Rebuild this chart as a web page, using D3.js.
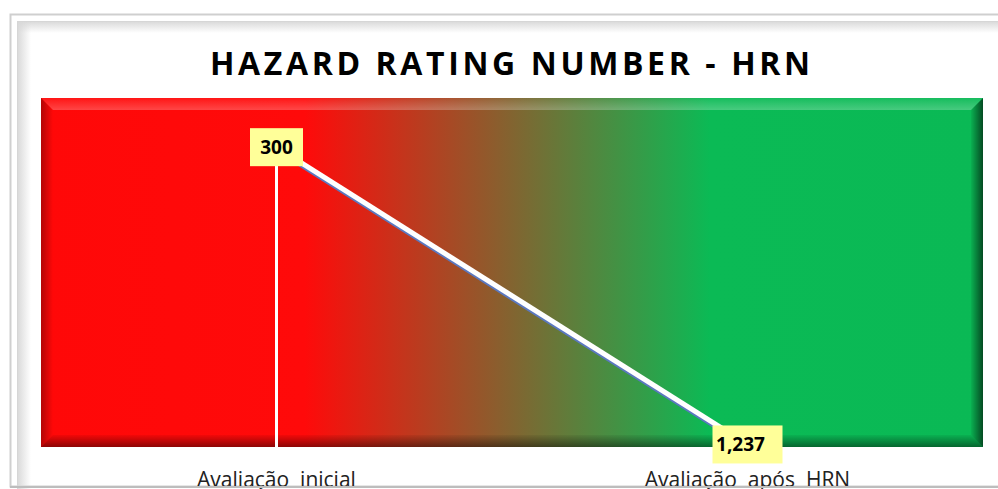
<!DOCTYPE html>
<html>
<head>
<meta charset="utf-8">
<script src="https://cdn.jsdelivr.net/npm/d3@7"></script>
<style>
  body { margin: 0; background: #fff; }
  svg { display: block; }
</style>
</head>
<body>
<div id="container"></div>
<script>
	var WIDTH = 998;
	var HEIGHT = 489;

	// chart data
	var categories = ["Avaliação  inicial", "Avaliação  após  HRN"];
	var hrnValues = [300, 1237];
	var valueLabels = ["300", "1,237"];
	var chartTitle = "HAZARD RATING NUMBER - HRN";

	var plot = {left: 41, top: 98, right: 983, bottom: 447};

	var svg = d3.select('#container')
		.append('svg')
		.attr('width', WIDTH)
		.attr('height', HEIGHT);

	var defs = svg.append('defs');

	// red -> green background
	var bg = defs.append('linearGradient').attr('id', 'bgGrad')
		.attr('x1', '0%').attr('x2', '100%').attr('y1', '0%').attr('y2', '0%');
	bg.append('stop').attr('offset', '0%').attr('stop-color', '#ff0808');
	bg.append('stop').attr('offset', '28%').attr('stop-color', '#ff0a0a');
	bg.append('stop').attr('offset', '71%').attr('stop-color', '#0bba55');
	bg.append('stop').attr('offset', '100%').attr('stop-color', '#0ab955');

	function addGrad(id, x1, y1, x2, y2, c, o1, o2){
		var g = defs.append('linearGradient').attr('id', id)
			.attr('x1', x1).attr('y1', y1).attr('x2', x2).attr('y2', y2);
		g.append('stop').attr('offset', '0%').attr('stop-color', c).attr('stop-opacity', o1);
		g.append('stop').attr('offset', '100%').attr('stop-color', c).attr('stop-opacity', o2);
	}
	addGrad('bevTop', '0', '0', '0', '1', '#fff', 0.05, 0.25);
	addGrad('bevBot', '0', '0', '0', '1', '#000', 0.05, 0.45);
	addGrad('bevLeft', '1', '0', '0', '0', '#000', 0.0, 0.3);
	addGrad('bevRight', '0', '0', '1', '0', '#000', 0.05, 0.6);
	addGrad('frameTop', '0', '0', '0', '1', '#d8d8d8', 1, 0);
	addGrad('frameLeft', '0', '0', '1', '0', '#d8d8d8', 1, 0);

	// outer chart frame
	svg.append('rect')
		.attr('x', 10.5).attr('y', 14.5)
		.attr('width', 1000).attr('height', 472)
		.attr('fill', '#fff')
		.attr('stroke', '#cfcfcf').attr('stroke-width', 2);
	svg.append('rect').attr('x', 17).attr('y', 21).attr('width', 990).attr('height', 12)
		.attr('fill', 'url(#frameTop)');
	svg.append('rect').attr('x', 17).attr('y', 21).attr('width', 14).attr('height', 470)
		.attr('fill', 'url(#frameLeft)');
	svg.append('line').attr('x1', 17).attr('x2', 1000).attr('y1', 21.5).attr('y2', 21.5)
		.attr('stroke', '#d6d6d6');
	svg.append('line').attr('x1', 17.5).attr('x2', 17.5).attr('y1', 21).attr('y2', 489)
		.attr('stroke', '#d6d6d6');

	// title
	svg.append('text')
		.attr('x', 210).attr('y', 75)
		.attr('textLength', 600)
		.attr('lengthAdjust', 'spacing')
		.style('font-family', '"Open Sans", sans-serif')
		.style('font-weight', 'bold')
		.style('font-size', '32px')
		.attr('fill', '#000')
		.text(chartTitle);

	// plot background with bevel
	var pw = plot.right - plot.left, ph = plot.bottom - plot.top, b = 12;
	svg.append('rect')
		.attr('x', plot.left).attr('y', plot.top)
		.attr('width', pw).attr('height', ph)
		.attr('fill', 'url(#bgGrad)');
	var L = plot.left, T = plot.top, R = plot.right, B = plot.bottom;
	svg.append('polygon')
		.attr('points', [[L,T],[R,T],[R-b,T+b],[L+b,T+b]].join(' '))
		.attr('fill', 'url(#bevTop)');
	svg.append('polygon')
		.attr('points', [[L,B],[R,B],[R-b,B-b],[L+b,B-b]].join(' '))
		.attr('fill', 'url(#bevBot)');
	svg.append('polygon')
		.attr('points', [[L,T],[L+b,T+b],[L+b,B-b],[L,B]].join(' '))
		.attr('fill', 'url(#bevLeft)');
	svg.append('polygon')
		.attr('points', [[R,T],[R-b,T+b],[R-b,B-b],[R,B]].join(' '))
		.attr('fill', 'url(#bevRight)');

	// scales
	var x = d3.scaleBand()
		.domain(categories)
		.range([plot.left, plot.right])
		.padding(0);
	var y = d3.scaleLinear()
		.domain([145, 1245])
		.range([plot.top, plot.bottom]);

	var data = categories.map(function(c, i){
		return {cat: c, value: hrnValues[i], label: valueLabels[i]};
	});
	var cx = function(d){ return x(d.cat) + x.bandwidth() / 2; };

	// drop lines
	svg.selectAll('.drop')
		.data(data)
		.enter().append('line')
		.attr('class', 'drop')
		.attr('x1', cx).attr('x2', cx)
		.attr('y1', function(d){ return y(d.value); })
		.attr('y2', plot.bottom)
		.attr('stroke', '#fff')
		.attr('stroke-width', 3);

	// line with slight blue shadow
	var line = d3.line()
		.x(cx)
		.y(function(d){ return y(d.value); });
	svg.append('path')
		.datum(data)
		.attr('d', line)
		.attr('transform', 'translate(-1,1.5)')
		.attr('fill', 'none')
		.attr('stroke', '#5b78c0')
		.attr('stroke-width', 5);
	svg.append('path')
		.datum(data)
		.attr('d', line)
		.attr('fill', 'none')
		.attr('stroke', '#fff')
		.attr('stroke-width', 5);

	// data labels
	var boxW = [53, 70];
	var lbl = svg.selectAll('.lbl')
		.data(data)
		.enter().append('g')
		.attr('class', 'lbl')
		.attr('transform', function(d){ return 'translate(' + cx(d) + ',' + y(d.value) + ')'; });
	lbl.append('rect')
		.attr('x', function(d, i){ return -boxW[i] / 2; })
		.attr('y', -19)
		.attr('width', function(d, i){ return boxW[i]; })
		.attr('height', 38)
		.attr('fill', '#ffff99');
	lbl.append('text')
		.attr('x', function(d, i){ return i == 0 ? 0 : -boxW[i] / 2 + 28; })
		.attr('y', 7)
		.attr('text-anchor', 'middle')
		.style('font-family', '"Open Sans", sans-serif')
		.style('font-weight', 'bold')
		.style('font-size', '19px')
		.attr('fill', '#000')
		.text(function(d){ return d.label; });

	// category labels
	svg.selectAll('.cat')
		.data(categories)
		.enter().append('text')
		.attr('class', 'cat')
		.attr('x', function(d){ return x(d) + x.bandwidth() / 2; })
		.attr('y', 487)
		.attr('text-anchor', 'middle')
		.style('font-family', '"Open Sans", sans-serif')
		.style('font-size', '21px')
		.style('white-space', 'pre')
		.attr('fill', '#222')
		.text(function(d){ return d; });

	// bottom frame line runs over the labels
	svg.append('line').attr('x1', 10).attr('x2', 998).attr('y1', 487).attr('y2', 487)
		.attr('stroke', '#bdbdbd').attr('stroke-width', 2);
</script>
</body>
</html>
